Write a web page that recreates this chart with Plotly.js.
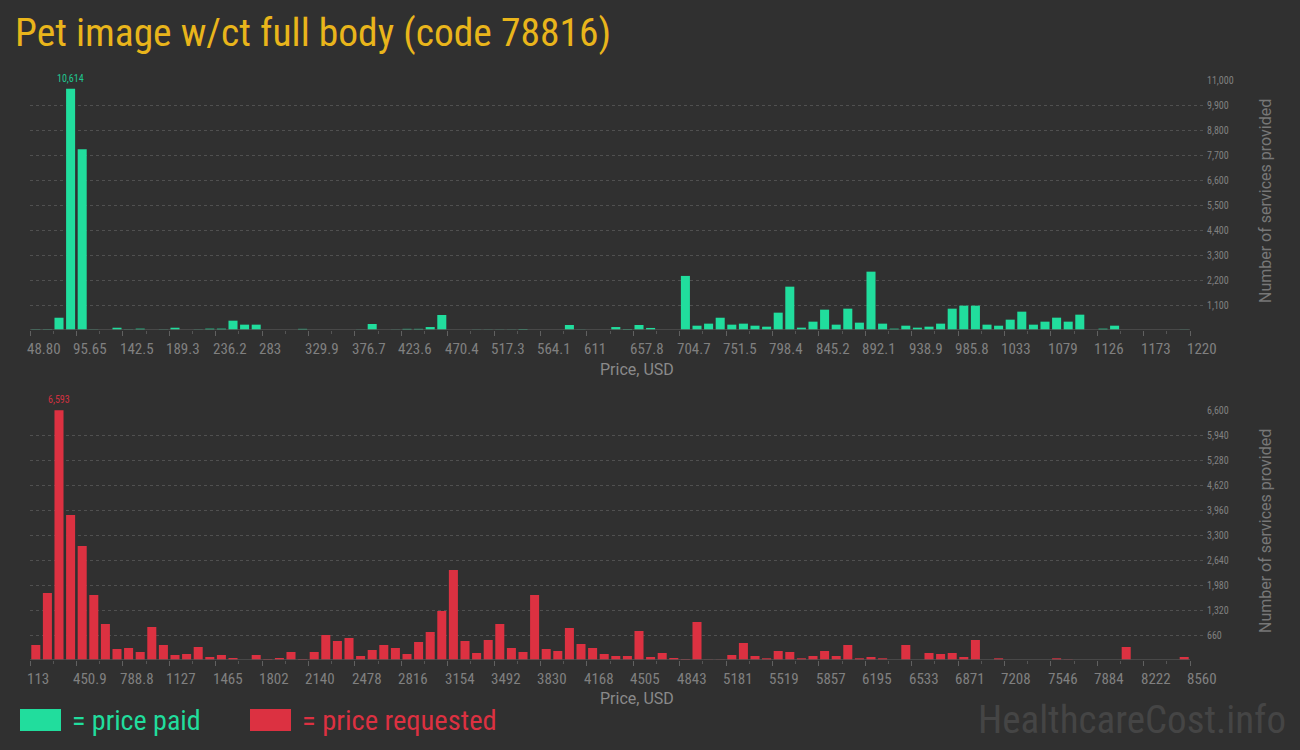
<!DOCTYPE html>
<html>
<head>
<meta charset="utf-8">
<script src="https://cdn.plot.ly/plotly-3.0.1.min.js"></script>
<style>
  html, body { margin: 0; padding: 0; background: #303030; }
  #chart { width: 1300px; height: 750px; }
</style>
</head>
<body>
<div id="chart"></div>
<script>
// ---- data ----
const paidCounts = [
  30, 30, 540, 10614, 7950, 20, 0, 100, 20, 60,
  0, 20, 100, 0, 20, 60, 60, 410, 235, 235,
  0, 0, 0, 50, 0, 0, 0, 0, 15, 264,
  0, 15, 50, 50, 130, 660, 0, 0, 15, 15,
  15, 15, 45, 0, 0, 0, 220, 15, 0, 0,
  130, 45, 220, 90, 0, 0, 2380, 190, 280, 540,
  235, 280, 190, 147, 763, 1907, 103, 367, 895, 235,
  939, 323, 2567, 280, 59, 190, 103, 147, 280, 939,
  1071, 1071, 235, 190, 455, 807, 235, 367, 543, 367,
  675, 0, 59, 190, 0, 0, 0, 0, 0, 15
];
const requestedCounts = [
  396, 1769, 6593, 3828, 3010, 1716, 950, 290, 317, 211,
  871, 396, 132, 158, 343, 79, 132, 53, 0, 132,
  26, 53, 211, 26, 211, 660, 502, 581, 106, 264,
  396, 317, 158, 475, 739, 1294, 2376, 502, 185, 528,
  950, 317, 211, 1716, 290, 238, 845, 422, 317, 158,
  106, 106, 766, 79, 185, 53, 26, 1003, 10, 10,
  132, 449, 106, 45, 238, 211, 45, 106, 238, 106,
  396, 45, 79, 45, 0, 396, 0, 185, 158, 185,
  79, 528, 0, 45, 0, 0, 0, 0, 45, 15,
  0, 0, 0, 0, 343, 0, 0, 0, 0, 79
];
const paidTickLabels = ['48.80','95.65','142.5','189.3','236.2','283','329.9','376.7','423.6','470.4',
  '517.3','564.1','611','657.8','704.7','751.5','798.4','845.2','892.1','938.9',
  '985.8','1033','1079','1126','1173','1220'];
const requestedTickLabels = ['113','450.9','788.8','1127','1465','1802','2140','2478','2816','3154',
  '3492','3830','4168','4505','4843','5181','5519','5857','6195','6533',
  '6871','7208','7546','7884','8222','8560'];
const paidYTicks = [1100, 2200, 3300, 4400, 5500, 6600, 7700, 8800, 9900, 11000];
const requestedYTicks = [660, 1320, 1980, 2640, 3300, 3960, 4620, 5280, 5940, 6600];

const titleText = 'Pet image w/ct full body (code 78816)';
const xTitle = 'Price, USD';
const yTitle = 'Number of services provided';
const legendPaid = '= price paid';
const legendRequested = '= price requested';
const watermark = 'HealthcareCost.info';

// ---- styling ----
const GREEN = '#21dd9d';
const RED = '#dc3141';
const BG = '#303030';
const GRID = '#505050';
const TICKC = '#808080';
const NARROW = "'Liberation Sans Narrow', 'Roboto Condensed', 'DejaVu Sans Condensed', Roboto, sans-serif";
const ROBOTO = "Roboto, 'Open Sans', sans-serif";

const nBins = paidCounts.length;
const perLabel = nBins / (paidTickLabels.length - 1);
const idx = paidCounts.map((_, i) => i);
const idx2 = requestedCounts.map((_, i) => i);
const xRange = [-0.5, -0.5 + nBins * 1176 / 1160];

const majorTicks = paidTickLabels.map((_, k) => k * perLabel - 0.5);
const minorTicks = [];
for (let j = 0; j <= nBins; j += 2) minorTicks.push(j - 0.5);

function xAxis(anchor) {
  return {
    anchor: anchor, range: xRange, showgrid: false, zeroline: false, showline: false,
    tickmode: 'array', tickvals: majorTicks, showticklabels: false,
    ticks: 'outside', ticklen: 5, tickcolor: '#606060', tickwidth: 1,
    minor: { tickmode: 'array', tickvals: minorTicks, ticks: 'outside', ticklen: 3, tickcolor: '#555555', showgrid: false },
    fixedrange: true
  };
}
function yAxis(domain, ticks, anchor) {
  return {
    domain: domain, anchor: anchor, side: 'right', range: [0, ticks[ticks.length - 1]],
    tickmode: 'array', tickvals: ticks, tickformat: ',',
    showgrid: true, gridcolor: GRID, griddash: '3px,3px', gridwidth: 1,
    zeroline: false, showline: false, ticks: '',
    tickfont: { family: NARROW, size: 10, color: TICKC },
    fixedrange: true
  };
}

const traces = [
  { type: 'bar', x: idx, y: paidCounts, xaxis: 'x', yaxis: 'y', marker: { color: GREEN }, hoverinfo: 'y' },
  { type: 'bar', x: idx2, y: requestedCounts, xaxis: 'x2', yaxis: 'y2', marker: { color: RED }, hoverinfo: 'y' }
];

const annotations = [];
function addTickLabels(labels, xref, yref) {
  labels.forEach((t, k) => {
    annotations.push({
      text: t, x: k * perLabel - 0.5, y: 0, xref: xref, yref: yref + ' domain',
      xanchor: 'left', yanchor: 'top', xshift: -5, yshift: -8, showarrow: false,
      font: { family: NARROW, size: 15, color: TICKC }
    });
  });
}
addTickLabels(paidTickLabels, 'x', 'y');
addTickLabels(requestedTickLabels, 'x2', 'y2');

function addPeak(values, xref, yref, color) {
  let m = 0;
  values.forEach((v, i) => { if (v > values[m]) m = i; });
  annotations.push({
    text: values[m].toLocaleString('en-US'), x: m, y: values[m], xref: xref, yref: yref,
    xanchor: 'center', yanchor: 'bottom', yshift: 3, showarrow: false,
    font: { family: NARROW, size: 10, color: color }
  });
}
addPeak(paidCounts, 'x', 'y', '#1fc890');
addPeak(requestedCounts, 'x2', 'y2', '#d03040');

// axis titles
annotations.push({ text: xTitle, xref: 'paper', yref: 'paper', x: (637 - 30) / 1176, y: (750 - 90 - 369) / 580,
  xanchor: 'center', yanchor: 'middle', showarrow: false, font: { family: ROBOTO, size: 16, color: '#8a8a8a' } });
annotations.push({ text: xTitle, xref: 'paper', yref: 'paper', x: (637 - 30) / 1176, y: (750 - 90 - 698) / 580,
  xanchor: 'center', yanchor: 'middle', showarrow: false, font: { family: ROBOTO, size: 16, color: '#8a8a8a' } });
annotations.push({ text: yTitle, xref: 'paper', yref: 'paper', x: (1265 - 30) / 1176, y: (750 - 90 - 201) / 580,
  xanchor: 'center', yanchor: 'middle', textangle: -90, showarrow: false, font: { family: ROBOTO, size: 16, color: '#777777' } });
annotations.push({ text: yTitle, xref: 'paper', yref: 'paper', x: (1265 - 30) / 1176, y: (750 - 90 - 531) / 580,
  xanchor: 'center', yanchor: 'middle', textangle: -90, showarrow: false, font: { family: ROBOTO, size: 16, color: '#777777' } });

// legend
annotations.push({ text: legendPaid, xref: 'paper', yref: 'paper', x: (70 - 30) / 1176, y: (750 - 90 - 720) / 580,
  xanchor: 'left', yanchor: 'middle', showarrow: false, font: { family: NARROW, size: 28, color: GREEN } });
annotations.push({ text: legendRequested, xref: 'paper', yref: 'paper', x: (300 - 30) / 1176, y: (750 - 90 - 720) / 580,
  xanchor: 'left', yanchor: 'middle', showarrow: false, font: { family: NARROW, size: 28.5, color: RED } });
// watermark
annotations.push({ text: watermark, xref: 'paper', yref: 'paper', x: (1288 - 30) / 1176, y: (750 - 90 - 720) / 580,
  xanchor: 'right', yanchor: 'middle', showarrow: false, font: { family: NARROW, size: 39, color: '#454545' } });

const shapes = [
  { type: 'line', xref: 'x', yref: 'y', x0: -0.5, x1: nBins - 0.5, y0: 0, y1: 0, line: { color: '#505050', width: 1.5 } },
  { type: 'line', xref: 'x2', yref: 'y2', x0: -0.5, x1: nBins - 0.5, y0: 0, y1: 0, line: { color: '#505050', width: 1.5 } },
  { type: 'rect', xref: 'paper', yref: 'paper', x0: (20 - 30) / 1176, x1: (61 - 30) / 1176,
    y0: (750 - 90 - 731) / 580, y1: (750 - 90 - 709) / 580, fillcolor: GREEN, line: { width: 0 } },
  { type: 'rect', xref: 'paper', yref: 'paper', x0: (250 - 30) / 1176, x1: (291 - 30) / 1176,
    y0: (750 - 90 - 731) / 580, y1: (750 - 90 - 709) / 580, fillcolor: RED, line: { width: 0 } }
];

const layout = {
  width: 1300, height: 750,
  paper_bgcolor: BG, plot_bgcolor: BG,
  margin: { l: 30, r: 94, t: 80, b: 90, pad: 0 },
  showlegend: false, bargap: 0.22,
  title: { text: titleText, x: 15 / 1300, xanchor: 'left', xref: 'container', y: 1 - 32 / 750, yanchor: 'middle', yref: 'container',
    font: { family: NARROW, size: 39.5, color: '#e9b51b' } },
  xaxis: xAxis('y'),
  yaxis: yAxis([(750 - 90 - 330) / 580, 1], paidYTicks, 'x'),
  xaxis2: xAxis('y2'),
  yaxis2: yAxis([0, (750 - 90 - 410) / 580], requestedYTicks, 'x2'),
  annotations: annotations,
  shapes: shapes
};

Plotly.newPlot('chart', traces, layout, { displayModeBar: false, staticPlot: true });
</script>
</body>
</html>
